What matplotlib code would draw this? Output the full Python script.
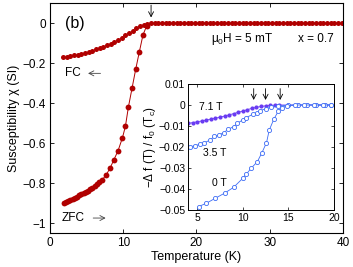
import matplotlib
matplotlib.use("Agg")
import matplotlib.pyplot as plt

plt.rcParams["font.family"] = ["Liberation Sans", "DejaVu Sans"]
plt.rcParams["mathtext.fontset"] = "custom"
plt.rcParams["mathtext.rm"] = "Liberation Sans"
plt.rcParams["mathtext.it"] = "Liberation Sans"

# main panel: FC and ZFC susceptibility at 5 mT
fc_T = [1.8, 2.3, 2.8, 3.3, 3.8, 4.3, 4.8, 5.3, 5.8, 6.3, 6.8, 7.3, 7.8,
        8.3, 8.8, 9.3, 9.8, 10.3, 10.8, 11.3, 11.8, 12.3, 12.8, 13.3, 13.8,
        14.3, 14.8, 15.3, 15.8, 16.3, 16.8, 17.3, 17.8, 18.3, 18.8, 19.3,
        19.8, 20.3, 20.8, 21.3, 21.8, 22.3, 22.8, 23.3, 23.8, 24.3, 24.8,
        25.3, 25.8, 26.3, 26.8, 27.3, 27.8, 28.3, 28.8, 29.3, 29.8, 30.3,
        30.8, 31.3, 31.8, 32.3, 32.8, 33.3, 33.8, 34.3, 34.8, 35.3, 35.8,
        36.3, 36.8, 37.3, 37.8, 38.3, 38.8, 39.3, 39.8]
fc_chi = [-0.170, -0.167, -0.164, -0.160, -0.156, -0.152, -0.147, -0.142,
          -0.136, -0.130, -0.124, -0.117, -0.109, -0.101, -0.092, -0.082,
          -0.071, -0.060, -0.048, -0.036, -0.025, -0.015, -0.007, -0.002,
          0.000, 0.002, 0.002, 0.002, 0.002, 0.002, 0.002, 0.002, 0.002,
          0.002, 0.002, 0.002, 0.002, 0.002, 0.002, 0.002, 0.002, 0.002,
          0.002, 0.002, 0.002, 0.002, 0.002, 0.002, 0.002, 0.002, 0.002,
          0.002, 0.002, 0.002, 0.002, 0.002, 0.002, 0.002, 0.002, 0.002,
          0.002, 0.002, 0.002, 0.002, 0.002, 0.002, 0.002, 0.002, 0.002,
          0.002, 0.002, 0.002, 0.002, 0.002, 0.002, 0.002, 0.002]

zfc_T = [1.9, 2.2, 2.5, 2.8, 3.1, 3.4, 3.7, 4.0, 4.3, 4.6, 4.9, 5.2, 5.5,
         5.8, 6.1, 6.4, 6.7, 7.1, 7.7, 8.2, 8.7, 9.3, 9.9, 10.3, 10.7,
         11.2, 11.7, 12.2, 12.7, 13.2]
zfc_chi = [-0.898, -0.893, -0.888, -0.883, -0.878, -0.873, -0.868, -0.862,
           -0.857, -0.851, -0.845, -0.838, -0.831, -0.823, -0.815, -0.806,
           -0.796, -0.785, -0.757, -0.725, -0.685, -0.637, -0.572, -0.515,
           -0.420, -0.325, -0.230, -0.142, -0.057, -0.012]

# inset: -delta f / f0 for three fields
t71_T = [4.0, 4.5, 5.0, 5.5, 6.0, 6.5, 7.0, 7.5, 8.0, 8.5, 9.0, 9.5, 10.0,
         10.5, 11.0, 11.5, 12.0, 12.5, 13.0, 13.5, 14.0, 15.0, 16.0, 17.0,
         18.0, 19.0, 19.7]
t71_v = [-0.0088, -0.0084, -0.0080, -0.0076, -0.0072, -0.0067, -0.0063,
         -0.0058, -0.0053, -0.0047, -0.0041, -0.0035, -0.0029, -0.0022,
         -0.0016, -0.0011, -0.0007, -0.0004, -0.0002, -0.0001, 0.0, 0.0,
         0.0, 0.0, 0.0, 0.0, 0.0]

t35_T = [4.2, 4.8, 5.3, 5.8, 6.4, 6.9, 7.4, 7.9, 8.4, 9.0, 9.4, 10.0, 10.4,
         11.1, 11.6, 11.9, 12.5, 13.1, 13.9, 15.0, 16.0, 17.0, 18.0, 19.0,
         19.7]
t35_v = [-0.0198, -0.0195, -0.0186, -0.0180, -0.0167, -0.0150, -0.0143,
         -0.0132, -0.0116, -0.0103, -0.0087, -0.0071, -0.0060, -0.0044,
         -0.0037, -0.0027, -0.0018, -0.0011, -0.0005, -0.0001, 0.0, 0.0,
         0.0, 0.0, 0.0]

t0_T = [5.15, 6.0, 7.0, 8.0, 9.0, 10.0, 10.4, 10.9, 11.6, 12.1, 12.6, 12.9,
        13.4, 13.9, 14.3, 14.8, 15.7, 16.7, 17.8, 18.8, 19.7]
t0_v = [-0.0484, -0.0468, -0.0444, -0.0420, -0.0392, -0.0349, -0.0329,
        -0.0302, -0.0270, -0.0227, -0.0180, -0.0120, -0.0068, -0.0029,
        -0.0013, -0.0004, 0.0, 0.0, 0.0, 0.0, 0.0]

tc_marks = [11.2, 12.5, 14.1]

red = "#b00000"
violet = "#6a3cf2"
blue = "#3d6cf5"
arr = "->,head_length=0.35,head_width=0.18"


def thin_arrow(a, start, end, color="black"):
    a.annotate("", xy=end, xytext=start,
               arrowprops=dict(arrowstyle=arr, lw=0.6, color=color,
                               shrinkA=0, shrinkB=0))


fig = plt.figure(figsize=(3.53, 2.67), dpi=100)
ax = fig.add_axes([0.1416, 0.1273, 0.830, 0.8596])

ax.plot(fc_T, fc_chi, "o", color=red, ms=3.6, mew=0)
ax.plot(zfc_T, zfc_chi, "o-", color=red, ms=4.2, mew=0, lw=0.7)

ax.set_xlim(0, 40)
ax.set_ylim(-1.05, 0.1)
ax.set_xticks([0, 10, 20, 30, 40])
ax.set_yticks([0, -0.2, -0.4, -0.6, -0.8, -1])
ax.set_yticklabels(["0", "\u22120.2", "\u22120.4", "\u22120.6", "\u22120.8", "\u22121"])
ax.tick_params(direction="in", top=True, right=True, length=3, width=0.6,
               labelsize=8.5, pad=3)
for s in ax.spines.values():
    s.set_linewidth(0.8)
ax.set_xlabel("Temperature (K)", fontsize=9, labelpad=1)
ax.set_ylabel("Susceptibility \u03c7 (SI)", fontsize=9, labelpad=2)

ax.text(2.0, 0.0, "(b)", fontsize=11.5, va="center", ha="left")
thin_arrow(ax, (13.8, 0.092), (13.8, 0.03))
ax.text(2.0, -0.25, "FC", fontsize=8.5, va="center", ha="left")
thin_arrow(ax, (6.9, -0.25), (5.2, -0.25), color="#444444")
ax.text(1.6, -0.975, "ZFC", fontsize=8.5, va="center", ha="left")
thin_arrow(ax, (5.9, -0.975), (7.6, -0.975), color="#444444")
ax.text(22.0, -0.08, "\u03bc$_0$H = 5 mT", fontsize=8.5, va="center", ha="left")
ax.text(33.8, -0.08, "x = 0.7", fontsize=8.5, va="center", ha="left")

ins = fig.add_axes([0.5326, 0.2135, 0.4136, 0.4719])
ins.plot(t71_T, t71_v, "o-", color=violet, ms=3, mew=0, lw=0.6)
ins.plot(t35_T, t35_v, "o-", color=blue, ms=3, mfc="white", mew=0.6, lw=0.6)
ins.plot(t0_T, t0_v, "o-", color=blue, ms=3, mfc="white", mew=0.6, lw=0.6)
ins.set_xlim(4, 20)
ins.set_ylim(-0.05, 0.01)
ins.set_xticks([5, 10, 15, 20])
ins.set_yticks([0.01, 0, -0.01, -0.02, -0.03, -0.04, -0.05])
ins.set_yticklabels(["0.01", "0", "\u22120.01", "\u22120.02", "\u22120.03",
                     "\u22120.04", "\u22120.05"])
ins.tick_params(direction="in", top=True, right=True, length=2.5, width=0.5,
                labelsize=7.5, pad=2)
for s in ins.spines.values():
    s.set_linewidth(0.7)
ins.set_ylabel("\u2212\u0394 f (T) / f$_0$ (T$_c$)", fontsize=8.5, labelpad=1)

ins.text(5.2, -0.001, "7.1 T", fontsize=7.5, va="center", ha="left")
ins.text(5.6, -0.0228, "3.5 T", fontsize=7.5, va="center", ha="left")
ins.text(6.6, -0.0373, "0 T", fontsize=7.5, va="center", ha="left")
for t in tc_marks:
    thin_arrow(ins, (t, 0.0078), (t, 0.0024))

fig.savefig("out.png", dpi=100)
